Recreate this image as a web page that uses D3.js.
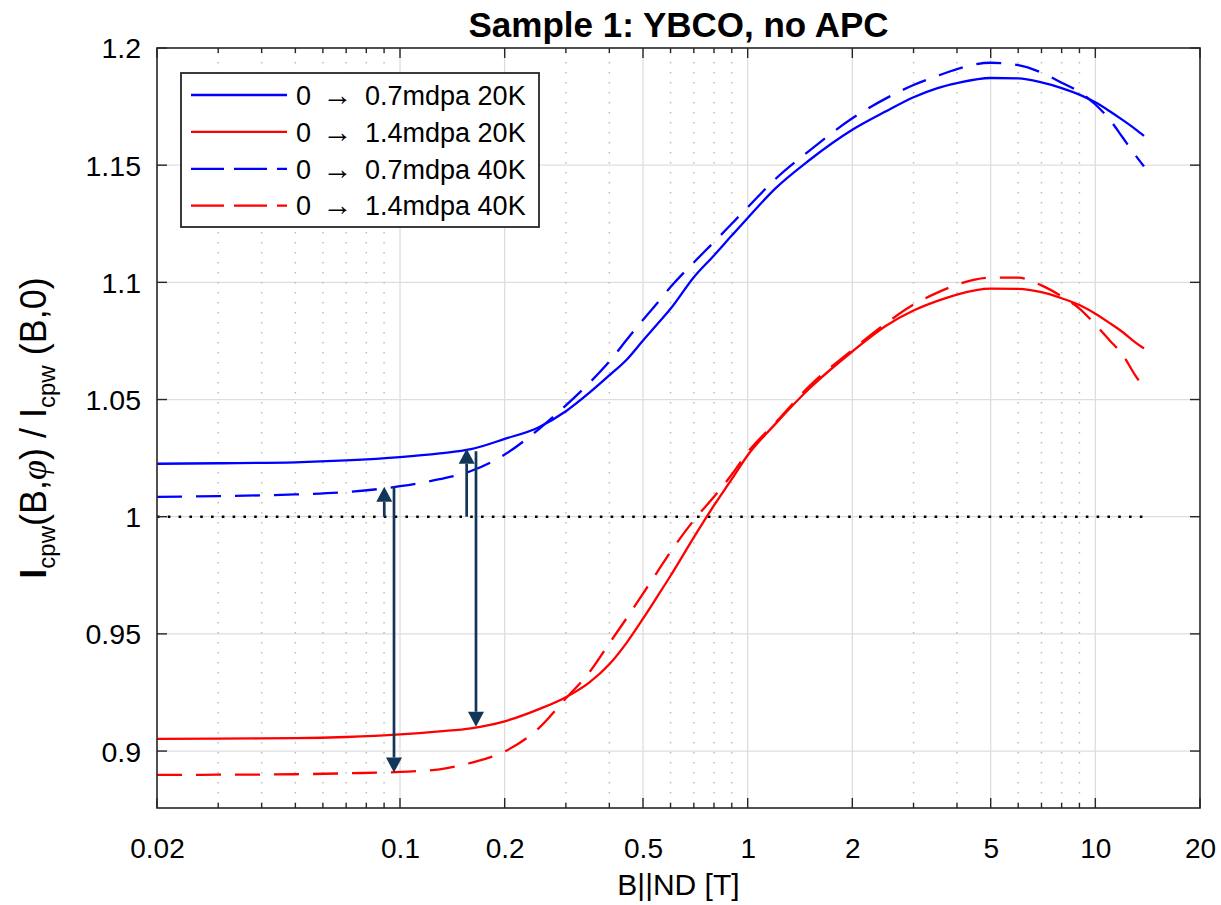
<!DOCTYPE html>
<html>
<head>
<meta charset="utf-8">
<script src="https://cdn.jsdelivr.net/npm/d3@7"></script>
<style>
  body { margin: 0; background: #fff; }
  svg { display: block; }
  text { font-family: "Liberation Sans", Arial, Helvetica, sans-serif; fill: #000; }
</style>
</head>
<body>
<svg id="chart" width="1221" height="905"></svg>
<script>
// Applied field B || ND [T]
const fieldT = [0.02, 0.03, 0.05, 0.07, 0.1, 0.13, 0.16, 0.2, 0.25, 0.3, 0.35, 0.4, 0.45, 0.5,
  0.55, 0.6, 0.7, 0.8, 0.9, 1, 1.2, 1.5, 2, 2.5, 3, 3.5, 4, 5, 6, 7, 8, 9, 10, 11, 12, 13, 13.8];

// Normalised critical current I_cpw(B,phi) / I_cpw(B,0)
const cpw07_20K = [1.0226, 1.0228, 1.0232, 1.0240, 1.0254, 1.0270, 1.0288, 1.0332, 1.0381, 1.0450,
  1.0528, 1.0603, 1.0672, 1.0752, 1.0822, 1.0887, 1.1022, 1.1115, 1.1200, 1.1275, 1.1400, 1.1520,
  1.1651, 1.1730, 1.1790, 1.1828, 1.1850, 1.1872, 1.1870, 1.1853, 1.1829, 1.1801, 1.1768, 1.1730,
  1.1692, 1.1655, 1.1625];
const cpw14_20K = [0.9052, 0.9053, 0.9055, 0.9060, 0.9071, 0.9084, 0.9097, 0.9127, 0.9178, 0.9230,
  0.9292, 0.9370, 0.9465, 0.9565, 0.9660, 0.9748, 0.9912, 1.0048, 1.0160, 1.0262, 1.0395, 1.0545,
  1.0705, 1.0815, 1.0880, 1.0920, 1.0948, 1.0973, 1.0972, 1.0958, 1.0932, 1.0903, 1.0866, 1.0826,
  1.0787, 1.0745, 1.0718];
const cpw07_40K = [1.0085, 1.0088, 1.0095, 1.0105, 1.0130, 1.0160, 1.0195, 1.0265, 1.0372, 1.0475,
  1.0570, 1.0662, 1.0757, 1.0840, 1.0912, 1.0980, 1.1085, 1.1172, 1.1250, 1.1320, 1.1440, 1.1560,
  1.1700, 1.1785, 1.1842, 1.1880, 1.1910, 1.1937, 1.1927, 1.1895, 1.1852, 1.1812, 1.1759, 1.1694,
  1.1617, 1.1545, 1.1495];
const cpw14_40K = [0.8898, 0.8899, 0.8901, 0.8905, 0.8911, 0.8922, 0.8950, 0.8998, 0.9096, 0.9225,
  0.9335, 0.9460, 0.9570, 0.9672, 0.9765, 0.9850, 0.9985, 1.0085, 1.0180, 1.0275, 1.0400, 1.0555,
  1.0712, 1.0825, 1.0905, 1.0955, 1.0990, 1.1020, 1.1020, 1.0987, 1.0940, 1.0888, 1.0820, 1.0752,
  1.0690, 1.0605, 1.0550];

const seriesDose = ["0.7mdpa 20K", "1.4mdpa 20K", "0.7mdpa 40K", "1.4mdpa 40K"];

// Tick values
const xTickValues = [0.02, 0.1, 0.2, 0.5, 1, 2, 5, 10, 20];
const yTickValues = [0.9, 0.95, 1, 1.05, 1.1, 1.15, 1.2];

// Annotation arrows: field position, start value, tip value
const arrowField = [0.0901, 0.0961, 0.1555, 0.1654];
const arrowFrom = [1.0, 1.0128, 1.0, 1.0279];
const arrowTo = [1.0128, 0.8908, 1.0290, 0.9104];

// Unity reference line
const unityField = [0.02, 13.8];
const unityValue = 1;

const series = [
  { name: seriesDose[0], values: cpw07_20K, color: "#0000ff", dashed: false },
  { name: seriesDose[1], values: cpw14_20K, color: "#ff0000", dashed: false },
  { name: seriesDose[2], values: cpw07_40K, color: "#0000ff", dashed: true },
  { name: seriesDose[3], values: cpw14_40K, color: "#ff0000", dashed: true }
];

const svg = d3.select("#chart");
const plot = { left: 157, right: 1200, top: 48, bottom: 808 };

const x = d3.scaleLog().domain([0.02, 20]).range([plot.left, plot.right]);
const y = d3.scaleLinear().domain([0.8757, 1.2]).range([plot.bottom, plot.top]);

const axisColor = "#262626";
const gridColor = "#dedede";
const minorGridColor = "#bdbdbd";

// minor tick positions: every integer multiple within each decade
const minorTicks = [];
[0.01, 0.1, 1, 10].forEach(d => {
  for (let k = 1; k <= 9; k++) {
    const v = +(d * k).toPrecision(3);
    if (v > 0.02 && v < 20 && !xTickValues.includes(v)) minorTicks.push(v);
  }
});

const grid = svg.append("g");
// horizontal grid
grid.selectAll("line.hy").data(yTickValues.filter(v => v < 1.2)).join("line")
  .attr("x1", plot.left).attr("x2", plot.right)
  .attr("y1", d => y(d)).attr("y2", d => y(d))
  .attr("stroke", gridColor).attr("stroke-width", 1.3);
// major vertical grid
grid.selectAll("line.vx").data(xTickValues.slice(1, -1)).join("line")
  .attr("x1", d => x(d)).attr("x2", d => x(d))
  .attr("y1", plot.top).attr("y2", plot.bottom)
  .attr("stroke", gridColor).attr("stroke-width", 1.3);
// minor vertical grid (dotted)
grid.append("g").selectAll("line").data(minorTicks).join("line")
  .attr("x1", d => x(d)).attr("x2", d => x(d))
  .attr("y1", plot.top + 4).attr("y2", plot.bottom)
  .attr("stroke", minorGridColor).attr("stroke-width", 1.5)
  .attr("stroke-dasharray", "1.5,8.5");

// unity reference line
svg.append("line")
  .attr("x1", x(unityField[0])).attr("x2", x(unityField[1]))
  .attr("y1", y(unityValue)).attr("y2", y(unityValue))
  .attr("stroke", "#000").attr("stroke-width", 2.6)
  .attr("stroke-dasharray", "2.6,8.2");

// curves
const line = d3.line().x((d, i) => x(fieldT[i])).y(d => y(d)).curve(d3.curveMonotoneX);
svg.append("g").selectAll("path").data(series).join("path")
  .attr("d", d => line(d.values))
  .attr("fill", "none")
  .attr("stroke", d => d.color)
  .attr("stroke-width", 2.3)
  .attr("stroke-dasharray", d => d.dashed ? "25,14" : null);

// annotation arrows
const arrowColor = "#11365a";
const arrows = svg.append("g");
arrowField.forEach((b, i) => {
  const ax = x(b), y0 = y(arrowFrom[i]), y1 = y(arrowTo[i]);
  const dir = y1 < y0 ? 1 : -1; // 1: pointing up
  const headLen = 15, headHalf = 8;
  const base = y1 + dir * headLen;
  arrows.append("line")
    .attr("x1", ax).attr("x2", ax).attr("y1", y0).attr("y2", base)
    .attr("stroke", arrowColor).attr("stroke-width", 2.7);
  arrows.append("path")
    .attr("d", `M${ax},${y1}L${ax - headHalf},${base}L${ax + headHalf},${base}Z`)
    .attr("fill", arrowColor);
});

// axes box and ticks
const axes = svg.append("g");
const bottomAxis = d3.axisBottom(x).tickValues(xTickValues).tickSize(0).tickFormat(d3.format("~g"));
const xAxisG = axes.append("g").attr("transform", `translate(0,${plot.bottom})`).call(bottomAxis);
xAxisG.select(".domain").remove();
xAxisG.selectAll("text").attr("font-size", 28).attr("dy", null).attr("y", 50).attr("fill", "#262626");

const leftAxis = d3.axisLeft(y).tickValues(yTickValues).tickSize(0).tickFormat(d3.format("~g"));
const yAxisG = axes.append("g").attr("transform", `translate(${plot.left},0)`).call(leftAxis);
yAxisG.select(".domain").remove();
yAxisG.selectAll("text").attr("font-size", 28.5).attr("x", -16).attr("dy", "0.35em").attr("fill", "#262626");

// inward tick marks on all four sides
const tickG = axes.append("g").attr("stroke", axisColor).attr("stroke-width", 1.4);
[[plot.bottom, -1], [plot.top, 1]].forEach(([yy, s]) => {
  tickG.selectAll(null).data(xTickValues).join("line")
    .attr("x1", d => x(d)).attr("x2", d => x(d))
    .attr("y1", yy).attr("y2", yy + s * 10);
  tickG.selectAll(null).data(minorTicks).join("line")
    .attr("x1", d => x(d)).attr("x2", d => x(d))
    .attr("y1", yy).attr("y2", yy + s * 5);
});
[[plot.left, 1], [plot.right, -1]].forEach(([xx, s]) => {
  tickG.selectAll(null).data(yTickValues).join("line")
    .attr("x1", xx).attr("x2", xx + s * 10)
    .attr("y1", d => y(d)).attr("y2", d => y(d));
});
axes.append("rect")
  .attr("x", plot.left).attr("y", plot.top)
  .attr("width", plot.right - plot.left).attr("height", plot.bottom - plot.top)
  .attr("fill", "none").attr("stroke", axisColor).attr("stroke-width", 1.6);

// title
svg.append("text")
  .attr("x", (plot.left + plot.right) / 2).attr("y", 37)
  .attr("text-anchor", "middle").attr("font-size", 35).attr("font-weight", "bold")
  .text("Sample 1: YBCO, no APC");

// x label
svg.append("text")
  .attr("x", (plot.left + plot.right) / 2).attr("y", 895)
  .attr("text-anchor", "middle").attr("font-size", 30).attr("fill", "#262626")
  .text("B||ND [T]");

// y label with subscripts
const yl = svg.append("text")
  .attr("transform", `translate(46,${(plot.top + plot.bottom) / 2}) rotate(-90)`)
  .attr("text-anchor", "middle").attr("font-size", 36).attr("fill", "#262626");
yl.append("tspan").attr("font-weight", "bold").text("I");
yl.append("tspan").attr("font-size", 24).attr("dy", 9).text("cpw");
yl.append("tspan").attr("dy", -9).text("(B,");
yl.append("tspan").attr("font-family", "Liberation Serif, serif").attr("font-style", "italic").text("φ");
yl.append("tspan").text(") / I");
yl.append("tspan").attr("font-size", 24).attr("dy", 9).text("cpw");
yl.append("tspan").attr("dy", -9).text(" (B,0)");

// legend
const legend = svg.append("g");
const lg = { x: 181, y: 73, w: 358, h: 154, row0: 95, rowStep: 36.9, lineX0: 191, lineX1: 287, textX: 296 };
legend.append("rect")
  .attr("x", lg.x).attr("y", lg.y).attr("width", lg.w).attr("height", lg.h)
  .attr("fill", "#fff").attr("stroke", axisColor).attr("stroke-width", 1.8);
series.forEach((s, i) => {
  const ry = lg.row0 + i * lg.rowStep;
  legend.append("line")
    .attr("x1", lg.lineX0).attr("x2", lg.lineX1).attr("y1", ry).attr("y2", ry)
    .attr("stroke", s.color).attr("stroke-width", 2.3)
    .attr("stroke-dasharray", s.dashed ? "33,10" : null);
  const t = legend.append("text")
    .attr("x", lg.textX).attr("y", ry).attr("dy", "0.36em").attr("font-size", 27);
  t.append("tspan").text("0 ");
  t.append("tspan").attr("dx", 4).attr("font-family", "Liberation Serif, serif").attr("font-size", 30).text("→");
  t.append("tspan").attr("dx", 5).text(" " + s.name);
});
</script>
</body>
</html>
